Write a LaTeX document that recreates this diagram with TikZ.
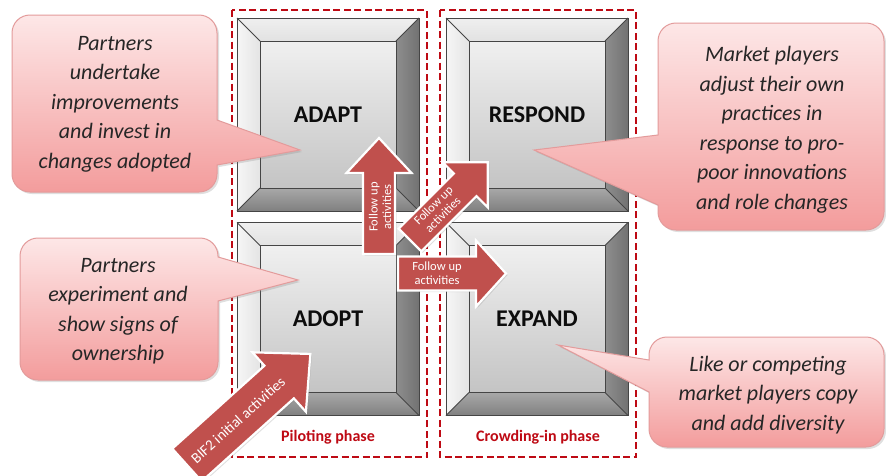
\documentclass[tikz,border=0pt]{standalone}
\usepackage{fontspec}
\setmainfont{Carlito}
\usetikzlibrary{calc,shadows}

\definecolor{phasered}{HTML}{BE0A14}
\definecolor{arrowred}{HTML}{C0504D}
\definecolor{calloutborder}{HTML}{E39B9B}
\definecolor{callouttop}{HTML}{FDE7E7}
\definecolor{calloutbottom}{HTML}{F39C9C}
\definecolor{captext}{HTML}{0D0D0D}
\definecolor{notetext}{HTML}{262626}
\definecolor{capedge}{HTML}{454545}
\definecolor{facetopA}{HTML}{EFEFEF}
\definecolor{facetopB}{HTML}{E2E2E2}
\definecolor{faceleftA}{HTML}{F6F6F6}
\definecolor{faceleftB}{HTML}{E4E4E4}
\definecolor{facerightA}{HTML}{8E8E8E}
\definecolor{facerightB}{HTML}{727272}
\definecolor{facebotA}{HTML}{A8A8A8}
\definecolor{facebotB}{HTML}{808080}
\definecolor{innerA}{HTML}{F0F0F0}
\definecolor{innerB}{HTML}{C4C4C4}

\tikzset{
  phasebox/.style={draw=phasered, line width=2.4pt, dash pattern=on 7pt off 3.5pt},
  phaselabel/.style={text=phasered, font=\fontsize{16}{18}\selectfont\bfseries, inner sep=0},
  capframe/.style={minimum width=182pt, minimum height=193pt, inner sep=0, outer sep=0},
  capline/.style={draw=capedge, line width=1pt},
  caplabel/.style={font=\fontsize{24}{26}\selectfont\bfseries, text=captext, inner sep=0},
  arrowbody/.style={fill=arrowred, draw=white, line width=2.2pt,
    drop shadow={shadow xshift=1.5pt, shadow yshift=-1.5pt, opacity=0.25}},
  arrowtext/.style={text=white, align=center, inner sep=0, font=\fontsize{12.5}{13.5}\selectfont},
  callout/.style={draw=calloutborder, line width=1pt, top color=callouttop, bottom color=calloutbottom,
    drop shadow={shadow xshift=2pt, shadow yshift=-2pt, opacity=0.25}},
  notetext/.style={text=notetext, align=center, inner sep=0, font=\fontsize{22}{29.5}\selectfont\itshape},
}

% bevelled square: name, centre, label
\newcommand\keycap[3]{%
  \node[capframe] (#1) at #2 {};
  \coordinate (#1-inw) at ($(#1.north west)+(23,23)$);
  \coordinate (#1-ine) at ($(#1.north east)+(-23,23)$);
  \coordinate (#1-ise) at ($(#1.south east)+(-23,-23)$);
  \coordinate (#1-isw) at ($(#1.south west)+(23,-23)$);
  \path[top color=facetopA, bottom color=facetopB] (#1.north west) -- (#1.north east) -- (#1-ine) -- (#1-inw) -- cycle;
  \path[left color=faceleftA, right color=faceleftB] (#1.north west) -- (#1-inw) -- (#1-isw) -- (#1.south west) -- cycle;
  \path[left color=facerightA, right color=facerightB] (#1.north east) -- (#1.south east) -- (#1-ise) -- (#1-ine) -- cycle;
  \path[top color=facebotA, bottom color=facebotB] (#1.south west) -- (#1-isw) -- (#1-ise) -- (#1.south east) -- cycle;
  \path[top color=innerA, bottom color=innerB] (#1-inw) rectangle (#1-ise);
  \draw[capline] (#1.north west) rectangle (#1.south east);
  \draw[capline] (#1-inw) rectangle (#1-ise);
  \draw[capline] (#1.north west) -- (#1-inw) (#1.north east) -- (#1-ine)
                 (#1.south east) -- (#1-ise) (#1.south west) -- (#1-isw);
  \node[caplabel] (#1-label) at (#1.center) {#3};
}

% block arrow: name, tail centre, angle, length, shaft half width, head half width, head length
\newcommand\fatarrow[7]{%
  \begin{scope}[shift={#2}, rotate=#3]
    \coordinate (#1-tail) at (0,0);
    \coordinate (#1-tip) at (#4,0);
    \path[arrowbody] (0,#5) -- ({#4-#7},#5) -- ({#4-#7},#6) -- (#1-tip)
      -- ({#4-#7},-#6) -- ({#4-#7},-#5) -- (0,-#5) -- cycle;
  \end{scope}}

\begin{document}
\begin{tikzpicture}[x=1pt, y=-1pt]
  \useasboundingbox (0,0) rectangle (886,475);
  \fill[white] (0,0) rectangle (886,475);
  \clip (0,0) rectangle (886,475);

  % phase frames
  \draw[phasebox] (232,10) rectangle (427,457);
  \draw[phasebox] (440,10) rectangle (636,457);
  \node[phaselabel] (piloting) at (328,437) {Piloting phase};
  \node[phaselabel] (crowding) at (538,437) {Crowding-in phase};

  % the four stages
  \keycap{adapt}{(328,114.5)}{ADAPT}
  \keycap{adopt}{(328,319)}{ADOPT}
  \keycap{respond}{(537,114.5)}{RESPOND}
  \keycap{expand}{(537,319)}{EXPAND}

  % activity arrows
  \fatarrow{up}{(379,254)}{90}{116}{16}{32.5}{35}
  \node[arrowtext, rotate=90] (up-text) at (380,207) {Follow up\\activities};
  \fatarrow{diag}{(410,240)}{45}{110}{16}{32}{32}
  \node[arrowtext, rotate=45] (diag-text) at (438,210) {Follow up\\activities};
  \fatarrow{right}{(398,273.5)}{0}{108}{17}{33}{30}
  \node[arrowtext] (right-text) at (437,273) {Follow up\\activities};
  \fatarrow{bif}{(187,465)}{42}{166}{22}{40}{42}
  \node[arrowtext, rotate=42, font=\fontsize{15}{16}\selectfont] (bif-text) at (238,420) {BIF2 initial activities};

  % callouts
  \path[callout] (30,15) -- (199,15) arc[start angle=-90,end angle=0,radius=18]
    -- (217,120) -- (300,150) -- (217,165)
    -- (217,174) arc[start angle=0,end angle=90,radius=18]
    -- (30,192) arc[start angle=90,end angle=180,radius=18]
    -- (12,33) arc[start angle=180,end angle=270,radius=18] -- cycle;
  \node[notetext] (note-adapt) at (115,104) {Partners\\undertake\\improvements\\and invest in\\changes adopted};

  \path[callout] (38,238) -- (200,238) arc[start angle=-90,end angle=0,radius=18]
    -- (218,257) -- (298,280) -- (218,301)
    -- (218,362) arc[start angle=0,end angle=90,radius=18]
    -- (38,380) arc[start angle=90,end angle=180,radius=18]
    -- (20,256) arc[start angle=180,end angle=270,radius=18] -- cycle;
  \node[notetext] (note-adopt) at (118,311) {Partners\\experiment and\\show signs of\\ownership};

  \path[callout] (676,23) -- (866,23) arc[start angle=-90,end angle=0,radius=18]
    -- (884,212) arc[start angle=0,end angle=90,radius=18]
    -- (676,230) arc[start angle=90,end angle=180,radius=18]
    -- (658,205) -- (534,150) -- (658,135)
    -- (658,41) arc[start angle=180,end angle=270,radius=18] -- cycle;
  \node[notetext] (note-respond) at (772,129.5) {Market players\\adjust their own\\practices in\\response to pro-\\poor innovations\\and role changes};

  \path[callout] (667,337) -- (866,337) arc[start angle=-90,end angle=0,radius=18]
    -- (884,429) arc[start angle=0,end angle=90,radius=18]
    -- (667,447) arc[start angle=90,end angle=180,radius=18]
    -- (649,392) -- (558,345) -- (649,360)
    -- (649,355) arc[start angle=180,end angle=270,radius=18] -- cycle;
  \node[notetext] (note-expand) at (768,395) {Like or competing\\market players copy\\and add diversity};
\end{tikzpicture}
\end{document}
